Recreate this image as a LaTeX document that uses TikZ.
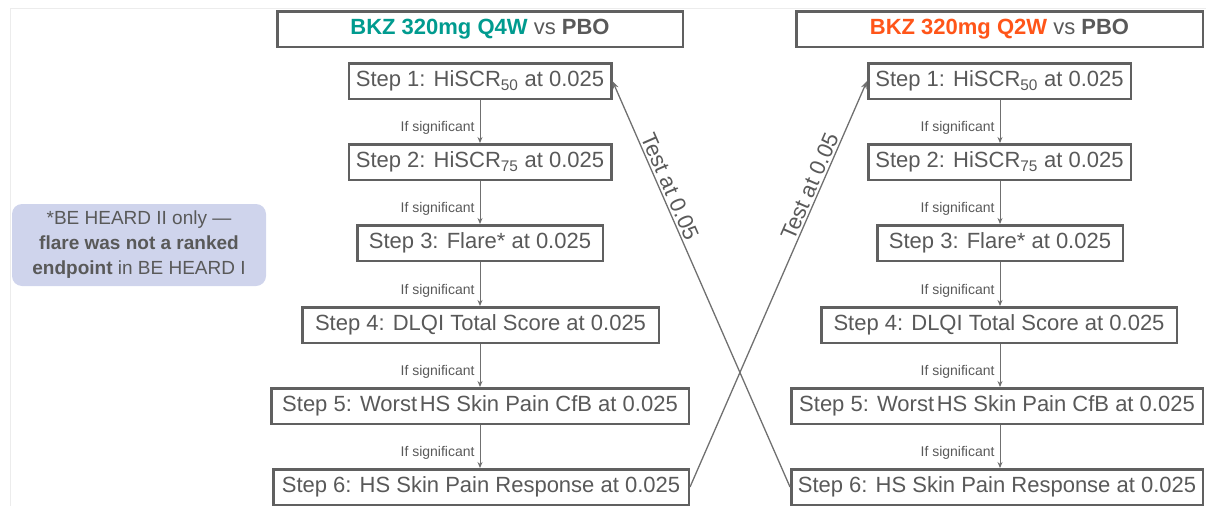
\documentclass[tikz,border=0pt]{standalone}
\usepackage{fontspec}
\setmainfont{Liberation Sans}
\usetikzlibrary{arrows.meta}
\definecolor{txtgray}{RGB}{89,89,89}
\definecolor{boxgray}{RGB}{96,96,96}
\definecolor{linegray}{RGB}{112,112,112}
\definecolor{teal4w}{RGB}{0,155,143}
\definecolor{orange2w}{RGB}{255,85,25}
\definecolor{calloutfill}{RGB}{207,212,236}
\definecolor{framegray}{RGB}{236,236,236}
\tikzset{
  stepbox/.style={draw=boxgray, line width=2.5pt, fill=white, text=txtgray,
    minimum height=35.5pt, inner sep=0pt, font=\fontsize{22}{26}\selectfont},
  titlebox/.style={stepbox},
  flowarr/.style={draw=linegray, line width=0.9pt, -{Stealth[length=6pt,width=5pt]}},
  crossarr/.style={draw=linegray, line width=1.3pt, -{Stealth[length=8pt,width=6pt]}},
  sigtext/.style={text=txtgray, font=\fontsize{14}{16}\selectfont, inner sep=5pt},
  testtext/.style={text=txtgray, font=\fontsize{22}{26}\selectfont, inner sep=2pt},
}
\begin{document}
\begin{tikzpicture}[x=1pt,y=-1pt]
\useasboundingbox (0,0) rectangle (1206,506);
\draw[framegray, line width=1pt] (10,506) -- (10,8) -- (1206,8);

% titles
\node[titlebox, minimum width=405.5pt] (lt) at (480,29)
  {\textbf{\color{teal4w}BKZ 320mg Q4W} vs \textbf{PBO}};
\node[titlebox, minimum width=406.5pt] (rt) at (999.5,29)
  {\textbf{\color{orange2w}BKZ 320mg Q2W} vs \textbf{PBO}};

% left column
\coordinate (lx) at (480,0);
\node[stepbox, minimum width=262.5pt] (ls1) at (480,81) {Step 1: HiSCR\textsubscript{50} at 0.025};
\node[stepbox, minimum width=262.5pt] (ls2) at (480,162) {Step 2: HiSCR\textsubscript{75} at 0.025};
\node[stepbox, minimum width=245.5pt] (ls3) at (480,243) {Step 3: Flare* at 0.025};
\node[stepbox, minimum width=356.5pt] (ls4) at (480.5,325) {Step 4: DLQI Total Score at 0.025};
\node[stepbox, minimum width=417.5pt] (ls5) at (480,406) {Step 5: Worst\hspace{0.12em}HS Skin Pain CfB at 0.025};
\node[stepbox, minimum width=415.5pt] (ls6) at (481,487) {Step 6: HS Skin Pain Response at 0.025};

% right column
\coordinate (rx) at (1000,0);
\node[stepbox, minimum width=262.5pt] (rs1) at (999.5,81) {Step 1: HiSCR\textsubscript{50} at 0.025};
\node[stepbox, minimum width=262.5pt] (rs2) at (999.5,162) {Step 2: HiSCR\textsubscript{75} at 0.025};
\node[stepbox, minimum width=245.5pt] (rs3) at (1000,243) {Step 3: Flare* at 0.025};
\node[stepbox, minimum width=355.5pt] (rs4) at (999,325) {Step 4: DLQI Total Score at 0.025};
\node[stepbox, minimum width=411.5pt] (rs5) at (997,406) {Step 5: Worst\hspace{0.12em}HS Skin Pain CfB at 0.025};
\node[stepbox, minimum width=411.5pt] (rs6) at (997,487) {Step 6: HS Skin Pain Response at 0.025};

% flow arrows
\foreach \a/\b in {1/2,2/3,3/4,4/5,5/6}{
  \draw[flowarr] (ls\a.south -| lx) -- node[sigtext, pos=0.65, left] {If significant} (ls\b.north -| lx);
  \draw[flowarr] (rs\a.south -| rx) -- node[sigtext, pos=0.65, left] {If significant} (rs\b.north -| rx);
}

% cross arrows
\draw[crossarr] (rs6.west) -- node[testtext, pos=0.73, sloped, above] {Test at 0.05} (ls1.east);
\draw[crossarr] (ls6.east) -- node[testtext, pos=0.73, sloped, above] {Test at 0.05} (rs1.west);

% callout
\node[fill=calloutfill, rounded corners=10pt, minimum width=254pt, minimum height=82pt,
  text=txtgray, align=center, inner sep=0pt, font=\fontsize{19}{25}\selectfont] (note) at (139,245)
  {*BE HEARD II only ---\\ \textbf{flare was not a ranked}\\ \textbf{endpoint} in BE HEARD I};
\end{tikzpicture}
\end{document}
